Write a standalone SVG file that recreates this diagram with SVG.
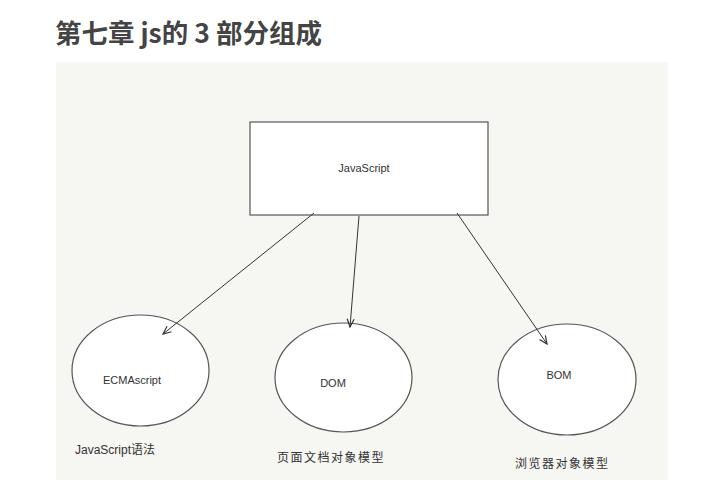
<svg xmlns="http://www.w3.org/2000/svg" width="707" height="480" viewBox="0 0 707 480">
<style>
.title{font-family:"Noto Sans CJK SC","Noto Sans",sans-serif;font-weight:bold;font-size:26.5px;fill:#444}
.shape{fill:#fff;stroke:#555;stroke-width:1.2}
.lbl{font-family:"Liberation Sans",Arial,sans-serif;font-size:11px;fill:#333}
.cap{font-family:"Liberation Sans","Noto Sans CJK SC",sans-serif;font-size:12px;fill:#333}
.conn{stroke:#333;stroke-width:1;fill:none;marker-end:url(#ah)}
</style>
<defs>
<marker id="ah" markerWidth="10" markerHeight="10" refX="9" refY="5" orient="auto" markerUnits="userSpaceOnUse">
<path d="M1,1.5 L9,5 L1,8.5" fill="none" stroke="#333" stroke-width="1.2"/>
</marker>
</defs>
<rect width="707" height="480" fill="#fff"/>
<text class="title" x="55" y="43">第七章 js的 3 部分组成</text>
<rect x="56" y="62" width="612" height="418" fill="#f6f6f2"/>
<g id="javascript">
<rect class="shape" x="250" y="122" width="238" height="93"/>
<text class="lbl" x="364" y="172" text-anchor="middle">JavaScript</text>
</g>
<g id="ecmascript">
<ellipse class="shape" cx="140.5" cy="370.5" rx="68.5" ry="55.5"/>
<text class="lbl" x="132" y="384" text-anchor="middle">ECMAscript</text>
<text class="cap" x="75" y="454">JavaScript语法</text>
</g>
<g id="dom">
<ellipse class="shape" cx="343.5" cy="377.5" rx="68.5" ry="54.5"/>
<text class="lbl" x="333" y="387" text-anchor="middle">DOM</text>
<text class="cap" x="277" y="462" letter-spacing="1.5">页面文档对象模型</text>
</g>
<g id="bom">
<ellipse class="shape" cx="567" cy="379.5" rx="69" ry="55.5"/>
<text class="lbl" x="559" y="379" text-anchor="middle">BOM</text>
<text class="cap" x="515" y="468" letter-spacing="1.5">浏览器对象模型</text>
</g>
<g id="connectors">
<line class="conn" x1="314" y1="213" x2="163" y2="334"/>
<line class="conn" x1="359" y1="216" x2="350" y2="327"/>
<line class="conn" x1="457" y1="213" x2="547" y2="344"/>
</g>
</svg>
